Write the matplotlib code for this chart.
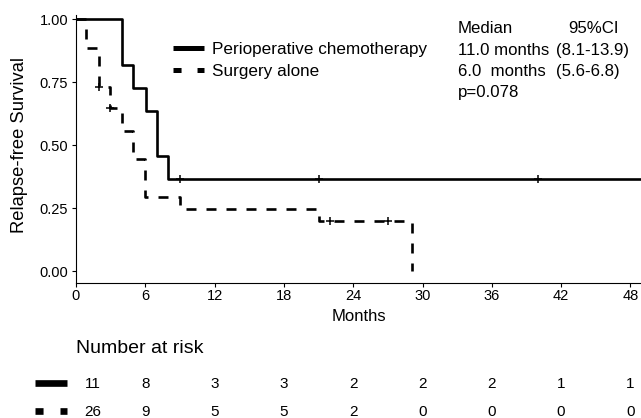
import matplotlib
matplotlib.use("Agg")
import matplotlib.pyplot as plt
from matplotlib.lines import Line2D

plt.rcParams['font.family'] = ['Liberation Sans', 'DejaVu Sans']
plt.rcParams['lines.scale_dashes'] = False

W, H = 641, 418

# perioperative chemotherapy (solid)
chemo_t = [0, 3.95, 4.9, 6.05, 6.98, 7.93]
chemo_s = [1.0, 0.818, 0.727, 0.636, 0.455, 0.364]
chemo_cens_t = [9, 21, 40]
chemo_cens_s = [0.364, 0.364, 0.364]
chemo_end = 49.5

# surgery alone (dashed)
surg_t = [0, 0.9, 1.95, 2.95, 3.95, 4.9, 5.97, 9.0, 21.0, 29.05]
surg_s = [1.0, 0.885, 0.731, 0.645, 0.555, 0.445, 0.295, 0.246, 0.197, 0.0]
surg_cens_t = [2.0, 2.95, 22.0, 27.0]
surg_cens_s = [0.731, 0.645, 0.197, 0.197]

xticks = [0, 6, 12, 18, 24, 30, 36, 42, 48]
yticks = [0.0, 0.25, 0.5, 0.75, 1.0]
risk_chemo = [11, 8, 3, 3, 2, 2, 2, 1, 1]
risk_surg = [26, 9, 5, 5, 2, 0, 0, 0, 0]

labels = ["Perioperative chemotherapy", "Surgery alone"]
median_rows = [("Median", "95%CI"),
               ("11.0 months", "(8.1-13.9)"),
               ("6.0  months", "(5.6-6.8)")]
pval = "p=0.078"

DASH = (0, (7.2, 7.2))


def fx(px):
    return px / W


def fy(py):
    return 1 - py / H


fig = plt.figure(figsize=(W / 100, H / 100), dpi=100)
ax = fig.add_axes([fx(76), fy(283), 1 - fx(76), (283 - 15) / H])

ax.step(chemo_t + [chemo_end], chemo_s + [chemo_s[-1]], where='post',
        color='black', lw=1.9, solid_capstyle='butt')
ax.plot(chemo_cens_t, chemo_cens_s, ls='none', marker='+', ms=6,
        mew=1.1, color='black')
ax.step(surg_t, surg_s, where='post', color='black', lw=1.9, ls=DASH,
        dash_capstyle='butt')
ax.plot(surg_cens_t, surg_cens_s, ls='none', marker='+', ms=6,
        mew=1.1, color='black')

ax.set_xlim(0, (W - 76) / 11.55)
ax.set_ylim(-0.0476, 1.016)
ax.set_xticks(xticks)
ax.set_yticks(yticks)
ax.set_yticklabels([f"{v:.2f}" for v in yticks])
ax.tick_params(direction='out', length=3, width=0.8, labelsize=10.5,
               colors='black')
ax.tick_params(axis='x', pad=1.5)
ax.tick_params(axis='y', pad=2.5)
for side in ['top', 'right']:
    ax.spines[side].set_visible(False)
for side in ['left', 'bottom']:
    ax.spines[side].set_linewidth(0.8)

fig.text(fx(20), fy(145), "Relapse-free Survival", rotation=90,
         ha='center', va='center', fontsize=13.2)
fig.text(fx(359), fy(321), "Months", ha='center', va='baseline',
         fontsize=12)

# legend
fig.add_artist(Line2D([fx(173), fx(204)], [fy(48.3), fy(48.3)],
                      color='black', lw=3.6, solid_capstyle='butt'))
fig.add_artist(Line2D([fx(173), fx(204)], [fy(70), fy(70)], color='black',
                      lw=3.6, ls=(0, (5.8, 11.5)), dash_capstyle='butt'))
fig.text(fx(211.5), fy(54.5), labels[0], fontsize=12.3, va='baseline')
fig.text(fx(211.5), fy(76.2), labels[1], fontsize=12.3, va='baseline')

# median table
for i, (a, b) in enumerate(median_rows):
    base = 33.3 + i * 21.3
    fig.text(fx(458), fy(base), a, fontsize=12.1, va='baseline')
    fig.text(fx(556) if i else fx(568), fy(base), b, fontsize=12.1,
             va='baseline')
fig.text(fx(458), fy(96.5), pval, fontsize=12.1, va='baseline')

# number at risk
fig.text(fx(76), fy(353.3), "Number at risk", fontsize=14, va='baseline')
fig.add_artist(Line2D([fx(35), fx(67)], [fy(382.7), fy(382.7)],
                      color='black', lw=4.8, solid_capstyle='butt'))
fig.add_artist(Line2D([fx(35), fx(67)], [fy(411), fy(411)], color='black',
                      lw=4.8, ls=(0, (5.8, 12.2)), dash_capstyle='butt'))
to_disp = ax.transData
for j, t in enumerate(xticks):
    xp = to_disp.transform((t, 0))[0]
    if j == 0:
        xp += 17
    fig.text(xp / W, fy(388.3), str(risk_chemo[j]), fontsize=11,
             ha='center', va='baseline')
    fig.text(xp / W, fy(416.5), str(risk_surg[j]), fontsize=11,
             ha='center', va='baseline')

fig.savefig("out.png", dpi=100)
